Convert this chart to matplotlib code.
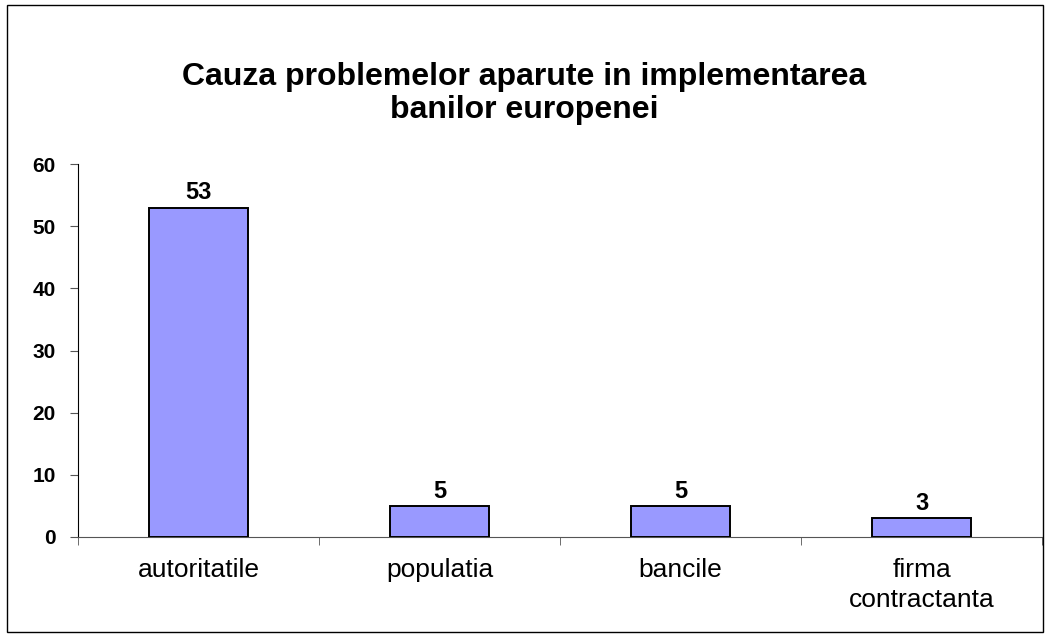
import matplotlib.pyplot as plt
import matplotlib.patches as patches

categories = ['autoritatile', 'populatia', 'bancile', 'firma\ncontractanta']
values = [53, 5, 5, 3]
yticks = [0, 10, 20, 30, 40, 50, 60]
title = 'Cauza problemelor aparute in implementarea\nbanilor europenei'

plt.rcParams['font.family'] = ['Liberation Sans', 'DejaVu Sans']

fig = plt.figure(figsize=(10.48, 6.36), dpi=100)
ax = fig.add_axes([0.0744, 0.1557, 0.92, 0.5863])

x = list(range(len(categories)))
ax.bar(x, values, width=0.41, color='#9999FF', edgecolor='black', linewidth=1.4, zorder=3)
for xi, v in zip(x, values):
    ax.text(xi, v + 0.5, str(v), ha='center', va='bottom', fontsize=17, fontweight='bold')

ax.set_xlim(-0.5, len(categories) - 0.5)
ax.set_ylim(0, 60)
ax.set_yticks(yticks)
ax.set_yticklabels([str(t) for t in yticks], fontsize=15, fontweight='bold')
ax.set_xticks(x)
ax.set_xticklabels(categories, fontsize=19, linespacing=1.35)
ax.tick_params(axis='x', length=0, pad=15)
ax.set_xticks([i - 0.5 for i in range(len(categories) + 1)], minor=True)
ax.tick_params(axis='x', which='minor', length=6, direction='out', color='#555555')
ax.tick_params(axis='y', length=6, direction='out', pad=10, color='#555555')

for s in ['top', 'right']:
    ax.spines[s].set_visible(False)
ax.spines['bottom'].set_color('#555555')
ax.spines['left'].set_color('black')

fig.text(0.5, 0.853, title, ha='center', va='center', fontsize=23, fontweight='bold', linespacing=1.15)

fig.patches.append(patches.Rectangle((0.007, 0.006), 0.988, 0.986, transform=fig.transFigure,
                                     fill=False, edgecolor='black', linewidth=1))

fig.savefig('out.png', dpi=100)
